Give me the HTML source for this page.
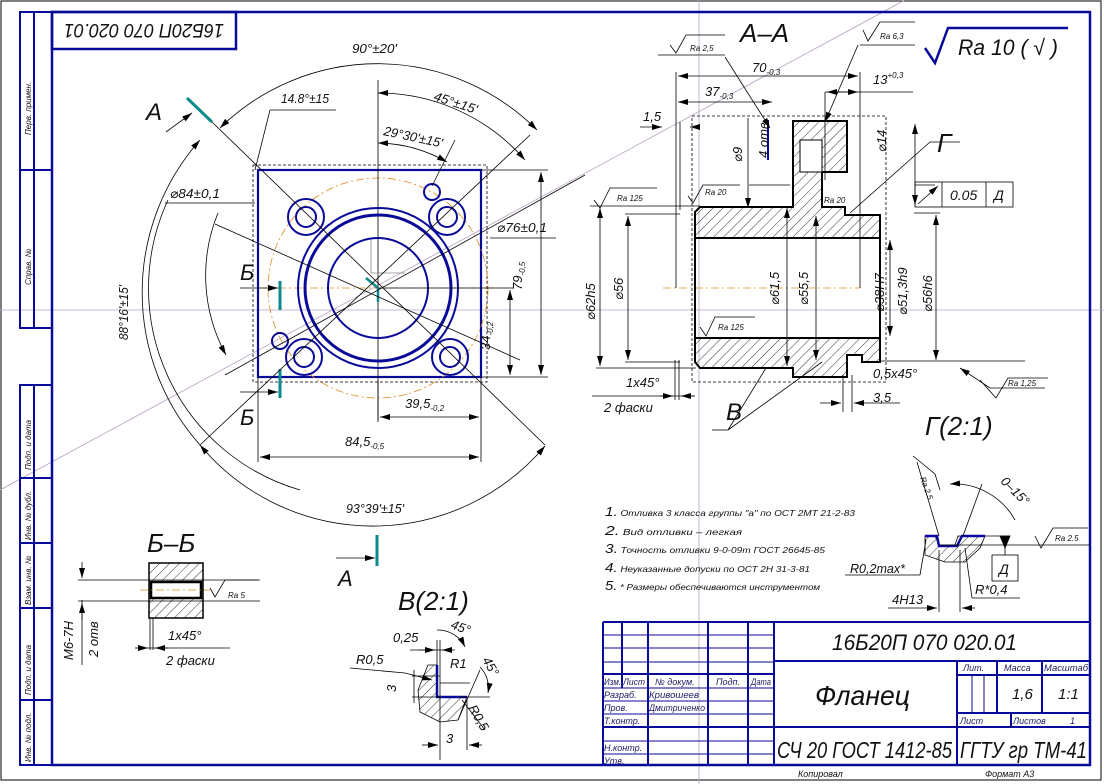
<!DOCTYPE html>
<html><head><meta charset="utf-8"><style>
html,body{margin:0;padding:0;background:#fff}
svg{display:block}
text{font-family:"Liberation Sans Narrow","Liberation Sans","DejaVu Sans",sans-serif;font-style:italic;fill:#111}
.b{stroke:#0a0a9a;fill:none}
.k{stroke:#000;fill:none;stroke-width:0.8}
.o{stroke:#e08a20;fill:none;stroke-width:0.8;stroke-dasharray:8 3 2 3}
.t{fill:#1a1a60}
</style></head><body>
<svg width="1104" height="784" viewBox="0 0 1104 784" xmlns="http://www.w3.org/2000/svg">
<defs>
<marker id="a" viewBox="0 0 10 6" refX="10" refY="3" markerWidth="10" markerHeight="6" orient="auto-start-reverse" markerUnits="userSpaceOnUse"><path d="M0,0L10,3L0,6z" fill="#000"/></marker>
<pattern id="h" width="7" height="7" patternUnits="userSpaceOnUse" patternTransform="rotate(45)"><line x1="0" y1="0" x2="0" y2="7" stroke="#000" stroke-width="0.8"/></pattern>
</defs>
<rect x="0" y="0" width="1104" height="784" fill="#fff"/>
<rect x="1" y="1" width="1100" height="779" fill="none" stroke="#000" stroke-width="1"/>
<line x1="0" y1="310" x2="1104" y2="310" stroke="#b8a0c0" stroke-width="0.8"/>
<line x1="699" y1="0" x2="699" y2="784" stroke="#b8a0c0" stroke-width="0.8"/>
<line x1="0" y1="490" x2="905" y2="0" stroke="#b8a0c0" stroke-width="0.8"/>
<!-- frame -->
<rect x="52" y="12" width="1038" height="753" class="b" stroke-width="2.5"/>
<rect x="52" y="12" width="184" height="37" class="b" stroke-width="2.5" fill="#fff"/>
<text x="144" y="38" font-size="19" text-anchor="middle" textLength="160" lengthAdjust="spacingAndGlyphs" transform="rotate(180 144 31)">16Б20П 070 020.01</text>
<g class="b" stroke-width="2">
<rect x="20" y="12" width="32" height="316"/><line x1="34" y1="12" x2="34" y2="328"/><line x1="20" y1="170" x2="52" y2="170"/>
<rect x="20" y="385" width="32" height="380"/><line x1="34" y1="385" x2="34" y2="765"/>
<line x1="20" y1="478" x2="52" y2="478"/><line x1="20" y1="543" x2="52" y2="543"/><line x1="20" y1="608" x2="52" y2="608"/><line x1="20" y1="700" x2="52" y2="700"/>
</g>
<g font-size="8">
<text transform="translate(31 135) rotate(-90)">Перв. примен.</text>
<text transform="translate(31 285) rotate(-90)">Справ. №</text>
<text transform="translate(31 470) rotate(-90)">Подп. и дата</text>
<text transform="translate(31 540) rotate(-90)">Инв. № дубл.</text>
<text transform="translate(31 605) rotate(-90)">Взам. инв. №</text>
<text transform="translate(31 695) rotate(-90)">Подп. и дата</text>
<text transform="translate(31 762) rotate(-90)">Инв. № подл.</text>
</g>

<!-- MAIN VIEW -->
<g>
<rect x="253" y="165" width="234" height="217" class="k" stroke-dasharray="3 2"/>
<rect x="258" y="170" width="223" height="207" class="b" stroke-width="2.2"/>
<circle cx="378" cy="288" r="110" class="o"/>
<line x1="262" y1="288" x2="495" y2="288" class="o"/>
<line x1="378" y1="80" x2="378" y2="420" class="k"/>
<circle cx="378" cy="288" r="80" class="b" stroke-width="2"/>
<circle cx="378" cy="288" r="73" class="b" stroke-width="3"/>
<circle cx="378" cy="288" r="50" class="b" stroke-width="2"/>
<g class="b" stroke-width="2">
<circle cx="306" cy="217" r="18"/><circle cx="306" cy="217" r="10"/>
<circle cx="447" cy="217" r="18"/><circle cx="447" cy="217" r="10"/>
<circle cx="304" cy="357" r="18"/><circle cx="304" cy="357" r="10"/>
<circle cx="450" cy="357" r="18"/><circle cx="450" cy="357" r="10"/>
<circle cx="432" cy="192" r="8"/><circle cx="280" cy="341" r="8"/>
</g>
<polyline points="371,240 371,273 405,273" fill="none" stroke="#888" stroke-width="0.8"/>
<line x1="366" y1="278" x2="378" y2="288" stroke="#0a8a8a" stroke-width="2.5"/>
<line x1="378" y1="288" x2="378" y2="302" stroke="#0a8a8a" stroke-width="2.5"/>
<line x1="187" y1="98" x2="212" y2="122" stroke="#0a8a8a" stroke-width="3"/>
<line x1="166" y1="132" x2="192" y2="113" class="k" marker-end="url(#a)"/>
<text x="146" y="120" font-size="24">А</text>
<line x1="280" y1="281" x2="280" y2="310" stroke="#0a8a8a" stroke-width="3"/>
<line x1="240" y1="288" x2="278" y2="288" class="k" marker-end="url(#a)"/>
<text x="240" y="280" font-size="22">Б</text>
<line x1="280" y1="369" x2="280" y2="398" stroke="#0a8a8a" stroke-width="3"/>
<line x1="240" y1="392" x2="278" y2="392" class="k" marker-end="url(#a)"/>
<text x="240" y="425" font-size="22">Б</text>
<line x1="377" y1="535" x2="377" y2="566" stroke="#0a8a8a" stroke-width="3"/>
<line x1="336" y1="558" x2="375" y2="558" class="k" marker-end="url(#a)"/>
<text x="338" y="586" font-size="22">А</text>
<line x1="212" y1="122" x2="545" y2="445" class="k"/>
<line x1="200" y1="445" x2="530" y2="135" class="k"/>
<line x1="215" y1="224" x2="520" y2="360" class="k"/>
<line x1="225" y1="375" x2="585" y2="175" class="k"/>
<line x1="270" y1="110" x2="255" y2="170" class="k"/><line x1="270" y1="110" x2="336" y2="110" class="k"/>
<line x1="455" y1="140" x2="432" y2="186" class="k"/>
<line x1="165" y1="203" x2="255" y2="203" class="k"/>
<line x1="490" y1="238" x2="556" y2="238" class="k"/>
<path d="M220,128 A225,225 0 0 1 537,130" class="k" marker-start="url(#a)" marker-end="url(#a)"/>
<path d="M378,93 A195,195 0 0 1 525,160" class="k" marker-start="url(#a)" marker-end="url(#a)"/>
<path d="M378,143 A145,145 0 0 1 447,162" class="k" marker-start="url(#a)" marker-end="url(#a)"/>
<path d="M200,140 A230,230 0 0 0 200,445" class="k" marker-start="url(#a)"/>
<path d="M218,213 A165,165 0 0 0 226,355" class="k" marker-end="url(#a)"/>
<path d="M168,200 A210,210 0 0 0 300,490" class="k"/>
<path d="M200,445 A225,225 0 0 0 545,446" class="k" marker-start="url(#a)" marker-end="url(#a)"/>
<g font-size="13">
<text x="352" y="53" textLength="45" lengthAdjust="spacingAndGlyphs">90°±20'</text>
<text x="433" y="100" textLength="45" lengthAdjust="spacingAndGlyphs" transform="rotate(18 433 100)">45°±15'</text>
<text x="383" y="135" textLength="60" lengthAdjust="spacingAndGlyphs" transform="rotate(12 383 135)">29°30'±15'</text>
<text x="281" y="103" textLength="48" lengthAdjust="spacingAndGlyphs">14.8°±15</text>
<text x="170" y="198" textLength="50" lengthAdjust="spacingAndGlyphs">⌀84±0,1</text>
<text x="497" y="232" textLength="50" lengthAdjust="spacingAndGlyphs">⌀76±0,1</text>
<text x="128" y="340" textLength="55" lengthAdjust="spacingAndGlyphs" transform="rotate(-90 128 340)">88°16'±15'</text>
<text x="346" y="513" textLength="58" lengthAdjust="spacingAndGlyphs">93°39'±15'</text>
</g>
<line x1="481" y1="170" x2="548" y2="170" class="k"/><line x1="481" y1="377" x2="548" y2="377" class="k"/>
<line x1="541" y1="172" x2="541" y2="375" class="k" marker-start="url(#a)" marker-end="url(#a)"/>
<text x="522" y="290" font-size="13" transform="rotate(-90 522 290)">79<tspan font-size="8" dy="3">-0,5</tspan></text>
<line x1="378" y1="288" x2="514" y2="288" class="k"/>
<line x1="510" y1="290" x2="510" y2="375" class="k" marker-start="url(#a)" marker-end="url(#a)"/>
<text x="490" y="350" font-size="13" transform="rotate(-90 490 350)">34<tspan font-size="8" dy="3">-0,2</tspan></text>
<line x1="378" y1="380" x2="378" y2="422" class="k"/><line x1="481" y1="377" x2="481" y2="462" class="k"/><line x1="258" y1="377" x2="258" y2="462" class="k"/>
<line x1="380" y1="417" x2="479" y2="417" class="k" marker-start="url(#a)" marker-end="url(#a)"/>
<text x="405" y="408" font-size="13">39,5<tspan font-size="8" dy="3">-0,2</tspan></text>
<line x1="260" y1="457" x2="479" y2="457" class="k" marker-start="url(#a)" marker-end="url(#a)"/>
<text x="345" y="446" font-size="13">84,5<tspan font-size="8" dy="3">-0,5</tspan></text>
</g>

<!-- SECTION A-A -->
<text x="740" y="42" font-size="26">А–А</text>
<rect x="692" y="116" width="194" height="266" class="k" stroke-dasharray="3 2"/>
<line x1="663" y1="288" x2="860" y2="288" class="o"/>
<path d="M700,207 L793,207 L793,121 L847,121 L847,172 L822,172 L822,207 L845,207 L845,215 L880,215 L880,238 L695,238 L695,212 Z" fill="url(#h)" stroke="#000" stroke-width="2"/>
<rect x="800" y="140" width="22" height="32" fill="#fff" stroke="#000" stroke-width="1"/>
<path d="M695,338 L880,338 L880,362 L862,362 L862,355 L847,355 L847,377 L793,377 L793,368 L700,368 L695,362 Z" fill="url(#h)" stroke="#000" stroke-width="2"/>
<line x1="695" y1="238" x2="695" y2="338" stroke="#000" stroke-width="2"/>
<line x1="880" y1="238" x2="880" y2="338" stroke="#000" stroke-width="2"/>
<line x1="768" y1="120" x2="768" y2="160" stroke="#0a0a9a" stroke-width="2"/>
<g class="k">
<line x1="676" y1="72" x2="676" y2="288"/><line x1="860" y1="72" x2="860" y2="288"/>
<line x1="678" y1="76" x2="858" y2="76" marker-start="url(#a)" marker-end="url(#a)"/>
<line x1="678" y1="102" x2="772" y2="102" marker-start="url(#a)" marker-end="url(#a)"/>
<line x1="825" y1="92" x2="913" y2="92"/><line x1="825" y1="92" x2="825" y2="180"/>
<line x1="827" y1="92" x2="858" y2="92" marker-start="url(#a)" marker-end="url(#a)"/>
<line x1="640" y1="127" x2="662" y2="127" marker-end="url(#a)"/><line x1="690" y1="127" x2="700" y2="127" marker-start="url(#a)"/>
<line x1="680" y1="122" x2="680" y2="210"/>
<line x1="590" y1="206" x2="700" y2="206"/><line x1="625" y1="214" x2="680" y2="214"/>
<line x1="600" y1="208" x2="600" y2="366" marker-start="url(#a)" marker-end="url(#a)"/>
<line x1="628" y1="216" x2="628" y2="360" marker-start="url(#a)" marker-end="url(#a)"/>
<line x1="596" y1="368" x2="696" y2="368"/><line x1="625" y1="362" x2="680" y2="362"/>
<line x1="787" y1="208" x2="787" y2="366" marker-start="url(#a)" marker-end="url(#a)"/>
<line x1="816" y1="216" x2="816" y2="360" marker-start="url(#a)" marker-end="url(#a)"/>
<line x1="890" y1="240" x2="890" y2="336" marker-start="url(#a)" marker-end="url(#a)"/>
<line x1="915" y1="124" x2="915" y2="205" marker-start="url(#a)" marker-end="url(#a)"/>
<line x1="936" y1="215" x2="936" y2="360" marker-start="url(#a)" marker-end="url(#a)"/>
<line x1="914" y1="213" x2="940" y2="213"/><line x1="880" y1="361" x2="1025" y2="361"/>
<line x1="915" y1="185" x2="935" y2="185"/>
<line x1="749" y1="185" x2="790" y2="185"/>
<line x1="748" y1="118" x2="748" y2="208" marker-end="url(#a)"/>
<line x1="843" y1="375" x2="843" y2="412"/><line x1="852" y1="375" x2="852" y2="412"/>
<line x1="820" y1="403" x2="841" y2="403" marker-end="url(#a)"/><line x1="854" y1="403" x2="900" y2="403" marker-start="url(#a)"/>
<line x1="592" y1="396" x2="694" y2="396"/>
<line x1="675" y1="360" x2="675" y2="400"/><line x1="679" y1="360" x2="679" y2="400"/>
<line x1="660" y1="396" x2="673" y2="396" marker-end="url(#a)"/><line x1="695" y1="396" x2="681" y2="396" marker-end="url(#a)"/>
<line x1="728" y1="430" x2="766" y2="368"/><line x1="728" y1="430" x2="822" y2="362"/><line x1="712" y1="430" x2="728" y2="430"/>
<line x1="850" y1="213" x2="930" y2="142"/><line x1="930" y1="142" x2="960" y2="142"/>
<line x1="960" y1="368" x2="990" y2="388" marker-start="url(#a)"/><line x1="990" y1="388" x2="1045" y2="388"/>
<line x1="725" y1="57" x2="770" y2="128" marker-end="url(#a)"/>
<line x1="858" y1="45" x2="825" y2="122" marker-end="url(#a)"/>
</g>
<g class="k">
<path d="M670,45 L676,53 L686,35 L725,35"/><line x1="658" y1="55" x2="725" y2="55"/>
<path d="M863,30 L868,41 L880,22 L915,22"/><line x1="860" y1="45" x2="915" y2="45"/>
<path d="M594,200 L600,208 L610,188 L657,188"/>
<path d="M688,196 L693,203 L703,185 L740,185"/>
<path d="M700,327 L706,336 L715,317 L755,317"/>
<path d="M980,380 L996,398 L1008,378 L1048,378"/>
</g>
<g font-size="8">
<text x="690" y="51">Ra 2,5</text><text x="880" y="39">Ra 6,3</text>
<text x="617" y="201">Ra 125</text><text x="705" y="195">Ra 20</text><text x="824" y="203">Ra 20</text>
<text x="718" y="330">Ra 125</text><text x="1008" y="386">Ra 1,25</text>
</g>
<path d="M925,48 L935,63 L948,28 L1068,28" fill="none" stroke="#0a0a9a" stroke-width="2.5"/>
<text x="958" y="55" font-size="22" textLength="100" lengthAdjust="spacingAndGlyphs">Ra 10 ( √ )</text>
<g font-size="13">
<text x="752" y="72">70<tspan font-size="8" dy="3">-0,3</tspan></text>
<text x="705" y="96">37<tspan font-size="8" dy="3">-0,3</tspan></text>
<text x="873" y="84">13<tspan font-size="8" dy="-6">+0,3</tspan></text>
<text x="643" y="121">1,5</text>
<text x="742" y="162" transform="rotate(-90 742 162)">⌀9</text>
<text x="768" y="158" transform="rotate(-90 768 158)">4 отв</text>
<text x="886" y="152" transform="rotate(-90 886 152)">⌀14</text>
<text x="595" y="320" transform="rotate(-90 595 320)">⌀62h5</text>
<text x="623" y="300" transform="rotate(-90 623 300)">⌀56</text>
<text x="779" y="305" transform="rotate(-90 779 305)">⌀61,5</text>
<text x="808" y="305" transform="rotate(-90 808 305)">⌀55,5</text>
<text x="884" y="312" transform="rotate(-90 884 312)">⌀38H7</text>
<text x="907" y="315" transform="rotate(-90 907 315)">⌀51,3h9</text>
<text x="932" y="312" transform="rotate(-90 932 312)">⌀56h6</text>
<text x="626" y="387">1х45°</text><text x="604" y="412">2 фаски</text>
<text x="873" y="378">0,5х45°</text><text x="873" y="402">3,5</text>
</g>
<text x="726" y="420" font-size="24">В</text>
<text x="937" y="152" font-size="26">Г</text>
<rect x="915" y="182" width="98" height="25" class="k" stroke-width="1"/>
<line x1="942" y1="182" x2="942" y2="207" class="k"/><line x1="986" y1="182" x2="986" y2="207" class="k"/>
<line x1="918" y1="204" x2="938" y2="186" class="k" marker-end="url(#a)"/>
<text x="950" y="200" font-size="14">0.05</text><text x="994" y="200" font-size="14">Д</text>

<!-- Г(2:1) -->
<text x="925" y="435" font-size="26">Г(2:1)</text>
<path d="M925,536 L935,536 L939,545 L955,545 L958,536 L985,536 L980,548 L965,562 L945,562 L925,555 Z" fill="url(#h)" stroke="#000" stroke-width="0.8"/>
<polyline points="925,536 937,536 939,546 957,546 962,536 985,536" fill="none" stroke="#0a0a9a" stroke-width="2.5"/>
<g class="k">
<line x1="917" y1="462" x2="939" y2="536"/><line x1="963" y1="536" x2="982" y2="484"/>
<path d="M950,484 A70,70 0 0 1 1015,520" marker-start="url(#a)"/>
<line x1="985" y1="536" x2="1010" y2="536"/><line x1="940" y1="545" x2="1090" y2="545"/>
<path d="M1000,536 L1010,536 L1005,548 Z" fill="#000"/>
<line x1="1005" y1="548" x2="1005" y2="555"/>
<path d="M1035,536 L1041,548 L1053,528 L1088,528"/>
<line x1="939" y1="550" x2="939" y2="612"/><line x1="960" y1="550" x2="960" y2="612"/>
<line x1="888" y1="608" x2="937" y2="608" marker-end="url(#a)"/><line x1="975" y1="608" x2="962" y2="608" marker-end="url(#a)"/>
<line x1="845" y1="575" x2="920" y2="575"/><line x1="920" y1="575" x2="926" y2="540"/>
<line x1="965" y1="548" x2="972" y2="598"/><line x1="972" y1="598" x2="1020" y2="598"/>
<path d="M913,456 L935,474 L940,490" />
</g>
<rect x="992" y="555" width="26" height="26" class="k" stroke-width="1"/>
<text x="999" y="574" font-size="14">Д</text>
<text x="1055" y="541" font-size="8">Ra 2.5</text>
<text x="920" y="478" font-size="8" transform="rotate(70 920 478)">Ra 2.5</text>
<text x="1000" y="482" font-size="13" transform="rotate(45 1000 482)">0–15°</text>
<text x="850" y="573" font-size="13" textLength="55" lengthAdjust="spacingAndGlyphs">R0,2max*</text>
<text x="892" y="604" font-size="13">4H13</text>
<text x="975" y="594" font-size="13">R*0,4</text>

<!-- Notes -->
<g font-size="8.5">
<text x="605" y="516" textLength="250" lengthAdjust="spacingAndGlyphs"><tspan font-size="13">1.</tspan> Отливка 3 класса группы "а" по ОСТ 2МТ 21-2-83</text>
<text x="605" y="535" textLength="137" lengthAdjust="spacingAndGlyphs"><tspan font-size="13">2.</tspan> Вид отливки – легкая</text>
<text x="605" y="553" textLength="220" lengthAdjust="spacingAndGlyphs"><tspan font-size="13">3.</tspan> Точность отливки 9-0-09т ГОСТ 26645-85</text>
<text x="605" y="572" textLength="205" lengthAdjust="spacingAndGlyphs"><tspan font-size="13">4.</tspan> Неуказанные допуски по ОСТ 2Н 31-3-81</text>
<text x="605" y="590" textLength="215" lengthAdjust="spacingAndGlyphs"><tspan font-size="13">5.</tspan> * Размеры обеспечиваются инструментом</text>
</g>

<!-- Б-Б -->
<text x="147" y="552" font-size="26">Б–Б</text>
<rect x="149" y="563" width="54" height="55" fill="url(#h)" stroke="#000" stroke-width="1.5"/>
<rect x="151" y="582" width="50" height="16" fill="#fff" stroke="#000" stroke-width="2.5"/>
<line x1="140" y1="590" x2="210" y2="590" class="o"/>
<g class="k">
<line x1="78" y1="580" x2="260" y2="580"/><line x1="78" y1="601" x2="260" y2="601"/>
<line x1="82" y1="562" x2="82" y2="578" marker-end="url(#a)"/><line x1="82" y1="620" x2="82" y2="603" marker-end="url(#a)"/>
<line x1="82" y1="600" x2="82" y2="665"/>
<path d="M210,588 L215,597 L225,580 L258,580"/>
<line x1="150" y1="618" x2="150" y2="650"/><line x1="153" y1="618" x2="153" y2="650"/>
<line x1="135" y1="648" x2="148" y2="648" marker-end="url(#a)"/><line x1="168" y1="648" x2="155" y2="648" marker-end="url(#a)"/>
<line x1="140" y1="648" x2="230" y2="648"/>
</g>
<text x="228" y="598" font-size="8">Ra 5</text>
<text x="168" y="640" font-size="13">1х45°</text><text x="166" y="665" font-size="13">2 фаски</text>
<text x="73" y="660" font-size="13" transform="rotate(-90 73 660)">М6-7Н</text>
<text x="98" y="657" font-size="13" transform="rotate(-90 98 657)">2 отв</text>

<!-- B(2:1) -->
<text x="398" y="610" font-size="26">В(2:1)</text>
<path d="M428,665 L437,665 L437,697 L467,697 L458,720 L440,722 L420,712 L418,690 Z" fill="url(#h)" stroke="#000" stroke-width="0.8"/>
<polyline points="437,665 437,697 467,697" fill="none" stroke="#0a0a9a" stroke-width="2.5"/>
<g class="k">
<line x1="410" y1="650" x2="455" y2="650"/><line x1="437" y1="640" x2="437" y2="665"/><line x1="440" y1="640" x2="440" y2="760"/>
<line x1="418" y1="650" x2="435" y2="650" marker-end="url(#a)"/><line x1="452" y1="650" x2="442" y2="650" marker-end="url(#a)"/>
<path d="M437,630 A30,30 0 0 1 465,647" marker-end="url(#a)"/>
<line x1="350" y1="668" x2="405" y2="673"/><line x1="405" y1="673" x2="432" y2="680" marker-end="url(#a)"/>
<line x1="440" y1="683" x2="470" y2="683"/><line x1="460" y1="697" x2="490" y2="697"/>
<path d="M480,667 A30,30 0 0 1 488,693" marker-end="url(#a)"/>
<line x1="458" y1="720" x2="480" y2="670"/>
<line x1="462" y1="700" x2="485" y2="730"/>
<line x1="412" y1="676" x2="440" y2="676"/><line x1="412" y1="697" x2="440" y2="697"/>
<line x1="414" y1="670" x2="414" y2="703"/>
<line x1="467" y1="700" x2="467" y2="750"/>
<line x1="422" y1="745" x2="438" y2="745" marker-end="url(#a)"/><line x1="482" y1="745" x2="469" y2="745" marker-end="url(#a)"/>
</g>
<g font-size="13">
<text x="393" y="642">0,25</text><text x="356" y="664">R0,5</text>
<text x="450" y="668">R1</text><text x="450" y="628" transform="rotate(20 450 628)">45°</text>
<text x="482" y="660" transform="rotate(60 482 660)">45°</text>
<text x="468" y="708" transform="rotate(60 468 708)">R0,5</text>
<text x="396" y="692" transform="rotate(-90 396 692)">3</text>
<text x="446" y="743">3</text>
</g>

<!-- TITLE BLOCK -->
<g class="b" stroke-width="2">
<line x1="603" y1="622" x2="1091" y2="622"/>
<line x1="603" y1="622" x2="603" y2="765"/>
<line x1="622" y1="622" x2="622" y2="688"/>
<line x1="648" y1="622" x2="648" y2="765"/>
<line x1="708" y1="622" x2="708" y2="765"/>
<line x1="748" y1="622" x2="748" y2="765"/>
<line x1="774" y1="622" x2="774" y2="765"/>
<line x1="603" y1="674" x2="774" y2="674"/>
<line x1="603" y1="727" x2="774" y2="727"/>
<line x1="774" y1="661" x2="1091" y2="661"/>
<line x1="774" y1="727" x2="1091" y2="727"/>
<line x1="957" y1="661" x2="957" y2="765"/>
<line x1="957" y1="675" x2="1091" y2="675"/>
<line x1="957" y1="713" x2="1091" y2="713"/>
<line x1="997" y1="661" x2="997" y2="713"/>
<line x1="1042" y1="661" x2="1042" y2="713"/>
<line x1="1011" y1="713" x2="1011" y2="727"/>
</g>
<g class="b" stroke-width="1">
<line x1="603" y1="635" x2="774" y2="635"/><line x1="603" y1="648" x2="774" y2="648"/><line x1="603" y1="662" x2="774" y2="662"/>
<line x1="603" y1="688" x2="774" y2="688"/><line x1="603" y1="701" x2="774" y2="701"/><line x1="603" y1="714" x2="774" y2="714"/>
<line x1="603" y1="741" x2="774" y2="741"/><line x1="603" y1="754" x2="774" y2="754"/>
<line x1="972" y1="675" x2="972" y2="713"/><line x1="984" y1="675" x2="984" y2="713"/>
</g>
<g font-size="9">
<text x="604" y="685" class="t" textLength="17" lengthAdjust="spacingAndGlyphs">Изм.</text><text x="623" y="685" class="t" textLength="22" lengthAdjust="spacingAndGlyphs">Лист</text><text x="655" y="685" class="t">№ докум.</text><text x="716" y="685" class="t">Подп.</text><text x="751" y="685" class="t" textLength="20" lengthAdjust="spacingAndGlyphs">Дата</text>
<text x="604" y="698" class="t">Разраб.</text><text x="649" y="698" class="t" textLength="50" lengthAdjust="spacingAndGlyphs">Кривошеев</text>
<text x="604" y="711" class="t">Пров.</text><text x="649" y="711" class="t" textLength="56" lengthAdjust="spacingAndGlyphs">Дмитриченко</text>
<text x="604" y="724" class="t">Т.контр.</text>
<text x="604" y="751" class="t">Н.контр.</text><text x="604" y="764" class="t">Утв.</text>
<text x="963" y="671" class="t">Лит.</text><text x="1004" y="671" class="t">Масса</text><text x="1044" y="671" class="t" textLength="44" lengthAdjust="spacingAndGlyphs">Масштаб</text>
<text x="960" y="724" class="t">Лист</text><text x="1013" y="724" class="t">Листов</text><text x="1070" y="724" class="t">1</text>
</g>
<text x="832" y="650" font-size="22" textLength="185" lengthAdjust="spacingAndGlyphs">16Б20П 070 020.01</text>
<text x="815" y="705" font-size="28" textLength="95" lengthAdjust="spacingAndGlyphs">Фланец</text>
<text x="1012" y="699" font-size="15">1,6</text><text x="1058" y="699" font-size="15">1:1</text>
<text x="777" y="758" font-size="23" textLength="175" lengthAdjust="spacingAndGlyphs">СЧ 20 ГОСТ 1412-85</text>
<text x="960" y="758" font-size="23" textLength="127" lengthAdjust="spacingAndGlyphs">ГГТУ гр ТМ-41</text>
<text x="798" y="777" font-size="9">Копировал</text>
<text x="985" y="777" font-size="9">Формат   А3</text>
</svg>
</body></html>
